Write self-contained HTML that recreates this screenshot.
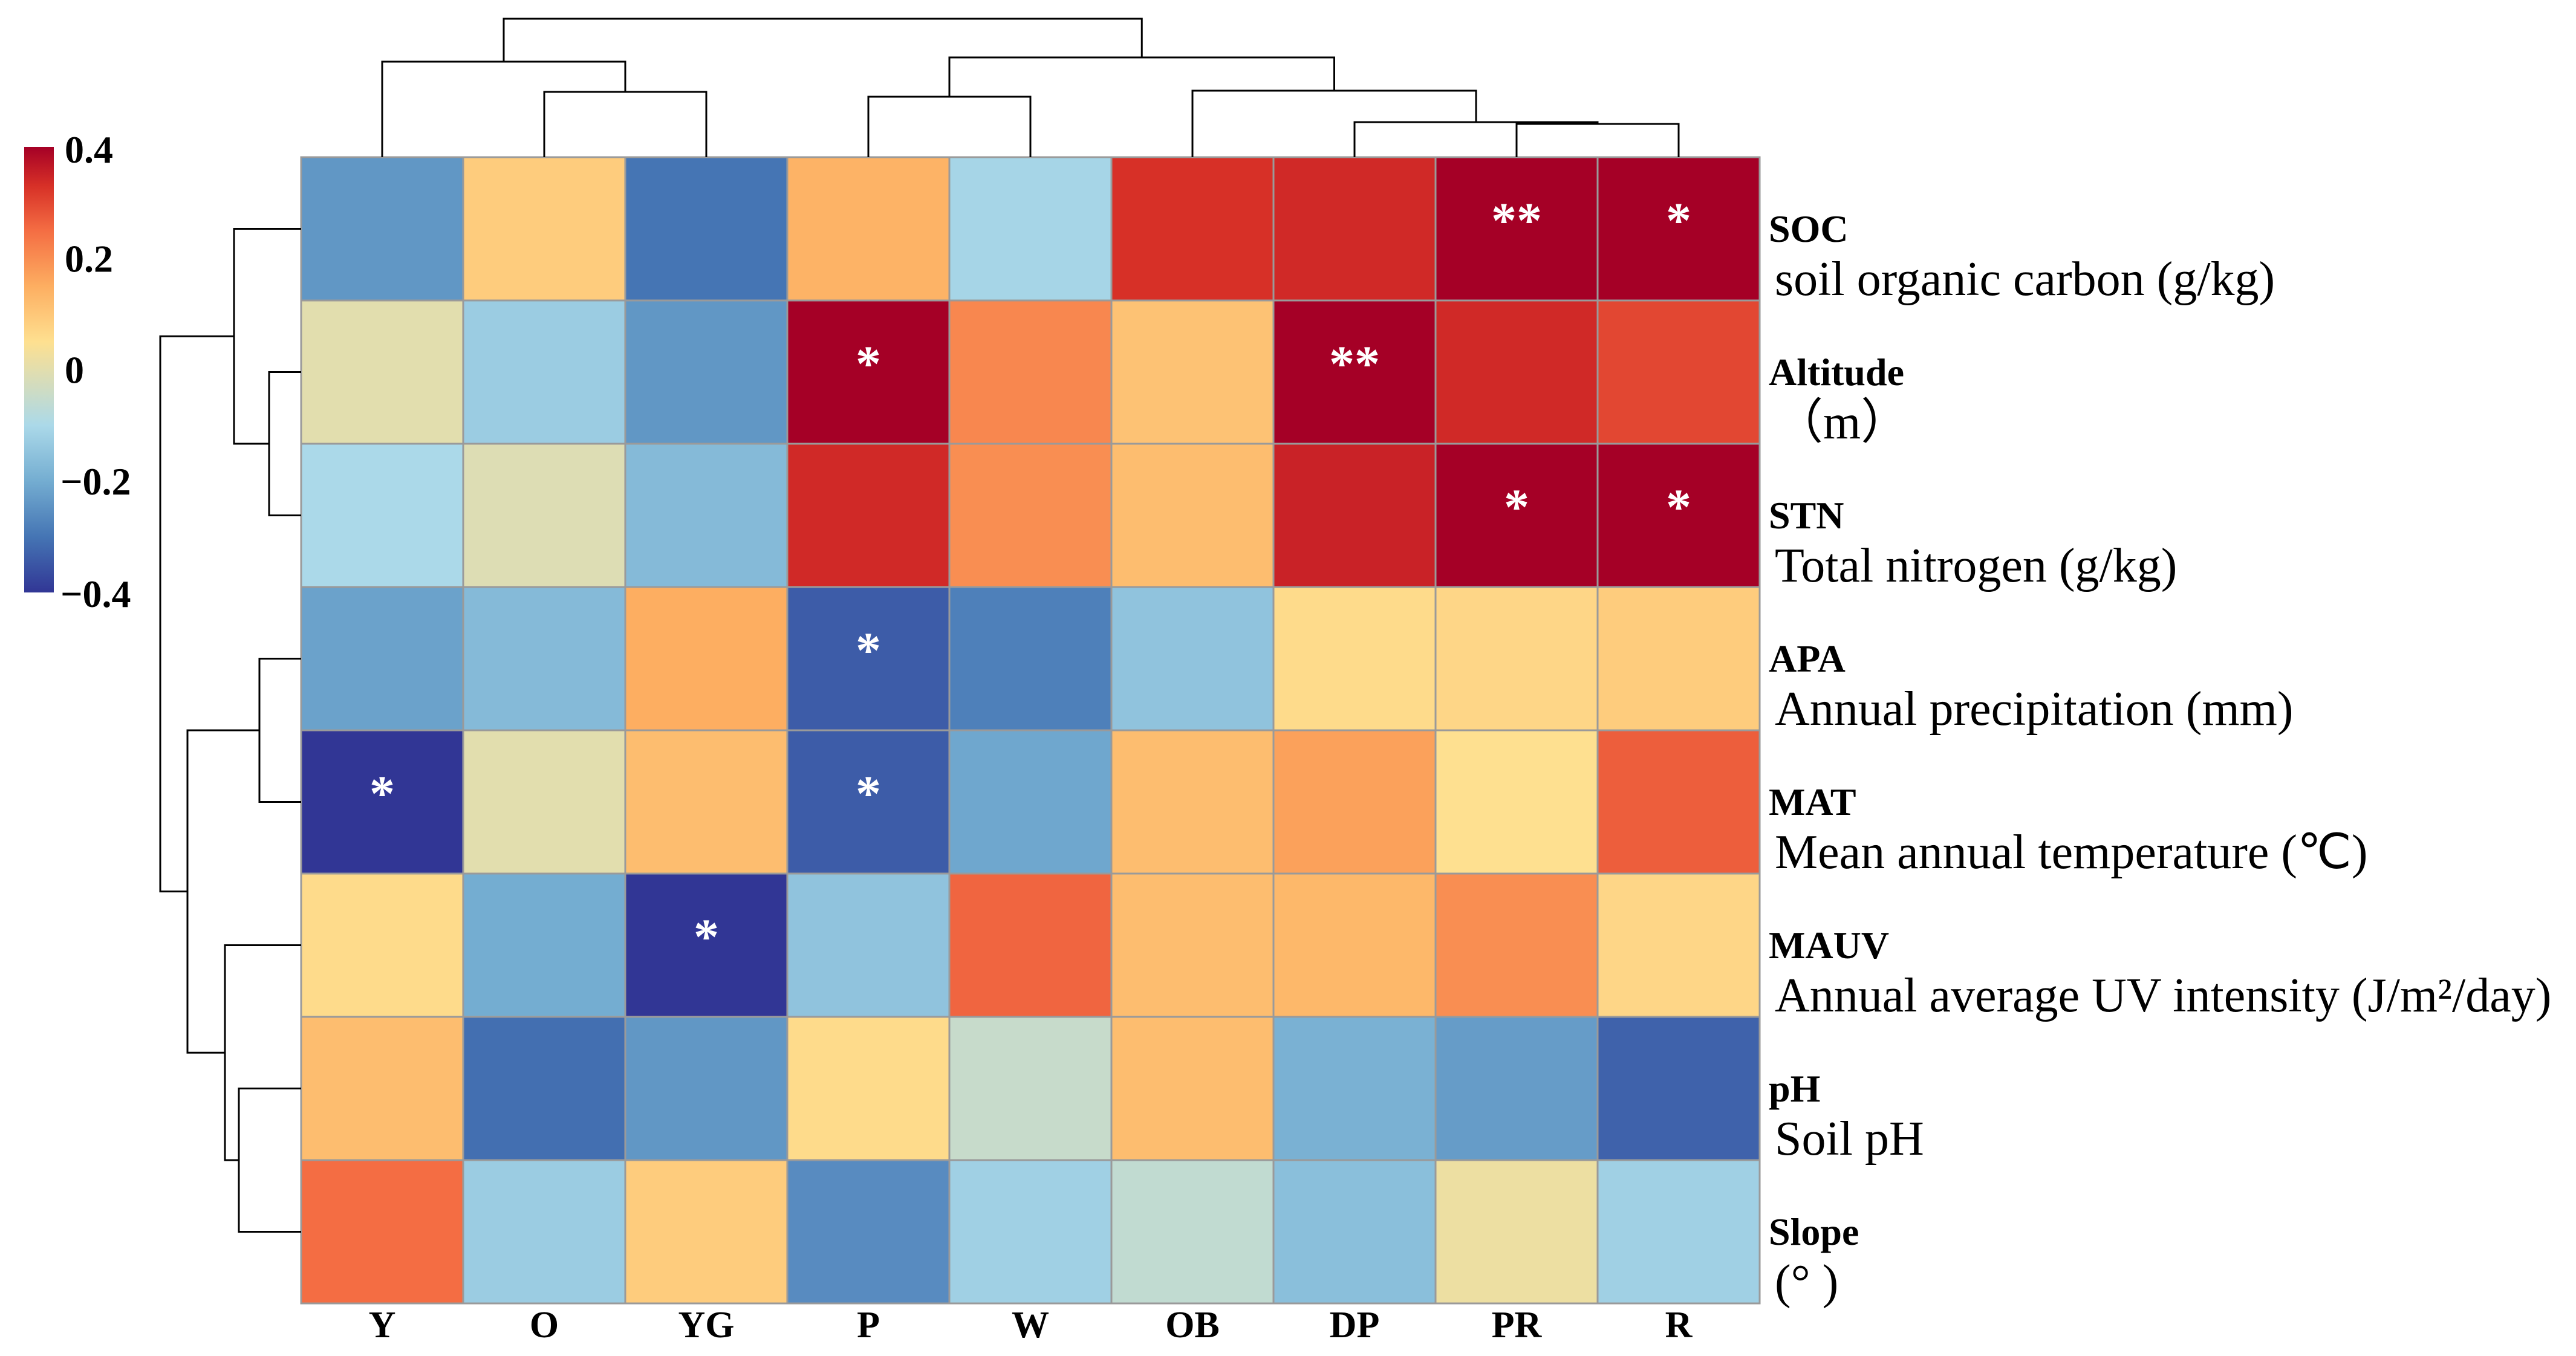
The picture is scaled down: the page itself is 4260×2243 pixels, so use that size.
<!DOCTYPE html>
<html><head><meta charset="utf-8"><style>
html,body{margin:0;padding:0;background:#fff;}
svg{display:block;}
text{font-family:"Liberation Serif","Times New Roman",serif;}
</style></head><body>
<svg id="chart" width="4260" height="2243" viewBox="0 0 4260 2243" xmlns="http://www.w3.org/2000/svg">
<defs>
<linearGradient id="cbar" x1="0" y1="1" x2="0" y2="0">
<stop offset="0" stop-color="#313695"/><stop offset="0.125" stop-color="#4575b4"/><stop offset="0.25" stop-color="#74add1"/><stop offset="0.375" stop-color="#abd9e9"/><stop offset="0.5625" stop-color="#fee090"/><stop offset="0.6875" stop-color="#fdae61"/><stop offset="0.8125" stop-color="#f46d43"/><stop offset="0.9125" stop-color="#d73027"/><stop offset="1" stop-color="#a50026"/>
</linearGradient>
</defs>
<rect x="40" y="243" width="49" height="737" fill="url(#cbar)"/>
<g id="cbticks" font-weight="bold" font-size="64"></g>
<g id="cells"></g>
<g id="stars" fill="#fff" font-weight="bold" font-size="84" text-anchor="middle"></g>
<g id="dendro" stroke="#000" stroke-width="3" fill="none"></g>
<g id="collabels" font-weight="bold" font-size="62" text-anchor="middle"></g>
<g id="rowlabels"></g>
</svg>
<script>
const columns = ["Y","O","YG","P","W","OB","DP","PR","R"];
const rowNames = ["SOC","Altitude","STN","APA","MAT","MAUV","pH","Slope"];
const rowDescs = ["soil organic carbon (g/kg)","（m）","Total nitrogen (g/kg)","Annual precipitation (mm)","Mean annual temperature (℃)","Annual average UV intensity (J/m²/day)","Soil pH","(°  )"];
const rowSOC      = [-0.24, 0.09,-0.30, 0.14,-0.11, 0.33, 0.34, 0.40, 0.40];
const rowAltitude = [ 0.00,-0.13,-0.24, 0.40, 0.21, 0.11, 0.40, 0.34, 0.30];
const rowSTN      = [-0.10,-0.01,-0.17, 0.34, 0.20, 0.12, 0.35, 0.40, 0.40];
const rowAPA      = [-0.22,-0.17, 0.15,-0.34,-0.28,-0.15, 0.06, 0.07, 0.09];
const rowMAT      = [-0.40, 0.00, 0.12,-0.34,-0.21, 0.12, 0.17, 0.05, 0.27];
const rowMAUV     = [ 0.06,-0.20,-0.40,-0.15, 0.26, 0.12, 0.13, 0.20, 0.07];
const rowPH       = [ 0.12,-0.31,-0.24, 0.06,-0.05, 0.12,-0.19,-0.23,-0.33];
const rowSlope    = [ 0.25,-0.13, 0.09,-0.26,-0.12,-0.06,-0.16, 0.02,-0.12];
const values = [rowSOC,rowAltitude,rowSTN,rowAPA,rowMAT,rowMAUV,rowPH,rowSlope];
const sigRow = [0,0,1,1,2,2,3,4,4,5];
const sigCol = [7,8,3,6,7,8,3,0,3,2];
const sigMark = ["**","*","*","**","*","*","*","*","*","*"];
const colorTicks = [0.4,0.2,0,-0.2,-0.4];
const colorTickLabels = ["0.4","0.2","0","\u22120.2","\u22120.4"];
const colMerges = [[1,2,152],[0,"c0",102],[3,4,160],[7,8,205],[6,"c3",202],[5,"c4",150],["c2","c5",95],["c1","c6",31]];
const rowMerges = [[1,2,445],[0,"r0",387],[3,4,429],[6,7,395],[5,"r3",372],["r2","r4",310],["r1","r5",265]];

const NS="http://www.w3.org/2000/svg";
const GX=498, GY=260, CW=268, CH=237, VMIN=-0.4, VMAX=0.4;
const xCell=i=>GX+i*CW, yCell=j=>GY+j*CH;
const stopV=[-0.4,-0.3,-0.2,-0.1,0.05,0.15,0.25,0.33,0.4];
const stopC=["#313695","#4575b4","#74add1","#abd9e9","#fee090","#fdae61","#f46d43","#d73027","#a50026"];
function hex(h){return [1,3,5].map(k=>parseInt(h.substr(k,2),16));}
function color(v){v=Math.max(VMIN,Math.min(VMAX,v));let i=0;while(i<stopV.length-2&&v>stopV[i+1])i++;const f=(v-stopV[i])/(stopV[i+1]-stopV[i]);const a=hex(stopC[i]),b=hex(stopC[i+1]);return "rgb("+a.map((c,k)=>Math.round(c+(b[k]-c)*f)).join(",")+")";}
function mk(tag,attrs,parent){const e=document.createElementNS(NS,tag);for(const k in attrs)e.setAttribute(k,attrs[k]);parent.appendChild(e);return e;}
const cbY=v=>243+(VMAX-v)/(VMAX-VMIN)*737;

const cells=document.getElementById('cells');
values.forEach((row,j)=>row.forEach((v,i)=>{
  const r=mk('rect',{x:xCell(i),y:yCell(j),width:CW,height:CH,fill:color(v),stroke:"#9a9a9a","stroke-width":3},cells);
  
  
}));
const stars=document.getElementById('stars');
sigMark.forEach((m,k)=>{
  const t=mk('text',{x:xCell(sigCol[k])+CW/2,y:yCell(sigRow[k])+CH/2+14},stars);
  t.textContent=m;
  
  
});
const cb=document.getElementById('cbticks');
colorTicks.forEach((v,k)=>{
  const neg=v<0;
  const t=mk('text',{x:neg?100:107,y:cbY(v)+(v===VMAX?26:v===VMIN?24:22)},cb);
  t.textContent=colorTickLabels[k];
  
  
});
const cl=document.getElementById('collabels');
columns.forEach((c,i)=>{
  const t=mk('text',{x:xCell(i)+CW/2,y:2212},cl);
  t.textContent=c;
  
  
});
const rl=document.getElementById('rowlabels');
rowNames.forEach((n,j)=>{
  const t=mk('text',{x:2925,y:yCell(j)+140,"font-weight":"bold","font-size":64},rl);
  t.textContent=n;
  
  
  const d=mk('text',{x:2935,y:yCell(j)+228,"font-size":80},rl);
  d.textContent=rowDescs[j];
  
  
});
const dg=document.getElementById('dendro');
function drawDendro(merges,prefix,leafPos,leafEdge,vertical){
  const nodes={};
  const pos=n=>typeof n==="number"?[leafPos(n),leafEdge]:nodes[n];
  merges.forEach((m,k)=>{
    const a=pos(m[0]),b=pos(m[1]),h=m[2];
    let d;
    if(!vertical) d=`M${a[0]},${a[1]}V${h}H${b[0]}V${b[1]}`;
    else d=`M${a[1]},${a[0]}H${h}V${b[0]}H${b[1]}`;
    const p=mk('path',{d:d},dg);
    
    
    nodes[prefix+k]=[(a[0]+b[0])/2,h];
  });
}
drawDendro(colMerges,"c",i=>xCell(i)+CW/2,GY,false);
drawDendro(rowMerges,"r",j=>yCell(j)+CH/2,GX,true);
</script>
</body></html>
